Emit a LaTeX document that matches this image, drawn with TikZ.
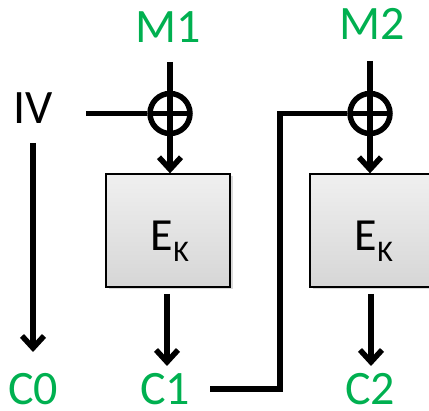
\documentclass[tikz,border=0pt]{standalone}
\usepackage{fontspec}
\setmainfont{Carlito}
\usetikzlibrary{arrows.meta,shadows}
\definecolor{lblgreen}{HTML}{00B050}
\tikzset{
  lbl/.style={inner sep=0pt, anchor=base, text=lblgreen, font=\fontsize{48}{50}\selectfont},
  ivlbl/.style={inner sep=0pt, anchor=base, text=black, font=\fontsize{48}{50}\selectfont},
  wire/.style={line width=5.5pt, draw=black,
    preaction={draw=black, opacity=0.18, transform canvas={shift={(1.8pt,-1.8pt)}}}},
  arr/.style={wire, -{Straight Barb[length=12pt,width=22pt]}},
  xorsym/.style={circle, draw, line width=5.5pt, minimum size=40pt, inner sep=0pt,
    path picture={\draw[line width=5.5pt] (path picture bounding box.north) -- (path picture bounding box.south)
      (path picture bounding box.west) -- (path picture bounding box.east);}},
  encbox/.style={draw=black, line width=1.3pt, minimum width=124pt, minimum height=113pt,
    top color=gray!12, bottom color=gray!32, inner sep=0pt,
    drop shadow={opacity=0.3, shadow xshift=2.5pt, shadow yshift=-2.5pt}},
}
\newcommand{\ekl}{\fontsize{46}{46}\selectfont E\raisebox{-11pt}{\fontsize{30}{30}\selectfont K}}
\begin{document}
\begin{tikzpicture}[x=1pt,y=-1pt]
\useasboundingbox (0,0) rectangle (429,411);
% labels
\node[lbl] (M1) at (168,43) {M1};
\node[lbl] (M2) at (372,40) {M2};
\node[ivlbl] (IV) at (33,124) {IV};
\node[lbl] (C0) at (33,405) {C0};
\node[lbl] (C1) at (165,405) {C1};
\node[lbl] (C2) at (370,405) {C2};
% xor
\node[xorsym] (x1) at (170,113.5) {};
\node[xorsym] (x2) at (370,113.5) {};
% boxes
\node[encbox] (E1) at (168,230.5) {};
\node[encbox] (E2) at (372,230.5) {};
\node[inner sep=0pt, anchor=base] (K1) at (170,251) {\ekl};
\node[inner sep=0pt, anchor=base] (K2) at (374,251) {\ekl};
% connectors
\coordinate (m1s) at (170,62);
\coordinate (m2s) at (370,61);
\coordinate (ivs) at (86,113.5);
\draw[wire] (m1s) -- (x1.north);
\draw[wire] (m2s) -- (x2.north);
\draw[wire] (ivs) -- (x1.west);
\draw[arr] (x1.south) -- (x1.south |- E1.north);
\draw[arr] (x2.south) -- (x2.south |- E2.north);
\coordinate (iva) at (33,143);
\coordinate (ivb) at (33,352);
\draw[arr] (iva) -- (ivb);
\coordinate (c1a) at (167,294);
\coordinate (c1b) at (167,366);
\draw[arr] (c1a) -- (c1b);
\coordinate (c2a) at (371,294);
\coordinate (c2b) at (371,366);
\draw[arr] (c2a) -- (c2b);
\coordinate (fbs) at (210,389);
\coordinate (fbc) at (280,113.5);
\draw[wire, line join=miter] (fbs) -| (fbc) -- (x2.west);
\end{tikzpicture}
\end{document}
